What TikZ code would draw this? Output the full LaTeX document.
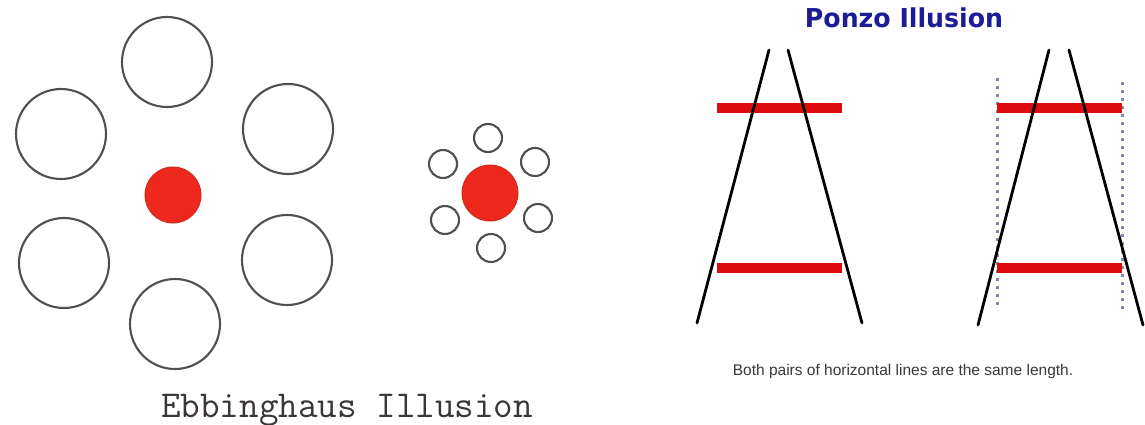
\documentclass[tikz,border=0pt]{standalone}
\usepackage{fontspec}
\newfontfamily\titlefont{DejaVu Sans}
\newfontfamily\capfont{Liberation Sans}
\definecolor{ringgray}{RGB}{80,80,80}
\definecolor{dotred}{RGB}{238,40,28}
\definecolor{dotedge}{RGB}{200,45,30}
\definecolor{barred}{RGB}{222,12,14}
\definecolor{titleblue}{RGB}{28,28,150}
\definecolor{dotblue}{RGB}{130,136,170}
\definecolor{textgray}{RGB}{60,55,55}
\begin{document}
\begin{tikzpicture}[x=1pt,y=-1pt,
  bigring/.style={circle,draw=ringgray,line width=2.1pt,minimum size=90pt,inner sep=0pt},
  smallring/.style={circle,draw=ringgray,line width=2.1pt,minimum size=28pt,inner sep=0pt},
  reddot/.style={circle,fill=dotred,draw=dotedge,line width=1pt,minimum size=56pt,inner sep=0pt},
  legline/.style={line width=2.8pt,black,line cap=round},
  redbar/.style={line width=10.5pt,barred},
  guide/.style={line width=3pt,dotblue,dash pattern=on 3pt off 5pt}]
\useasboundingbox[fill=white] (0,0) rectangle (1145,425);
% Ebbinghaus, large surround
\node[bigring] (t)  at (167,62) {};
\node[bigring] (ul) at (61,134) {};
\node[bigring] (ur) at (288,129) {};
\node[bigring] (ll) at (64,263) {};
\node[bigring] (lr) at (287,260) {};
\node[bigring] (b)  at (175,324) {};
\node[reddot]  (c1) at (173,195) {};
% Ebbinghaus, small surround
\node[smallring] (s1) at (488,138) {};
\node[smallring] (s2) at (443,164) {};
\node[smallring] (s3) at (535,162) {};
\node[smallring] (s4) at (445,220) {};
\node[smallring] (s5) at (538,218) {};
\node[smallring] (s6) at (491,248) {};
\node[reddot]    (c2) at (490,193) {};
\node[anchor=base west,inner sep=0pt,text=textgray,font=\ttfamily\fontsize{38}{38}\selectfont] (etitle) at (161,417) {Ebbinghaus Illusion};
% Ponzo
\node[inner sep=0pt,text=titleblue,font=\titlefont\bfseries\fontsize{26}{26}\selectfont,xscale=0.97,anchor=base] (ptitle) at (904,28) {Ponzo Illusion};
\coordinate (a1t) at (769,50);  \coordinate (a1b) at (697,323);
\coordinate (a2t) at (788,50);  \coordinate (a2b) at (862,323);
\coordinate (b1t) at (1049,50); \coordinate (b1b) at (978,325);
\coordinate (b2t) at (1069,50); \coordinate (b2b) at (1143,325);
\coordinate (g1t) at (997,78);  \coordinate (g1b) at (997,310);
\coordinate (g2t) at (1122,82); \coordinate (g2b) at (1122,314);
\coordinate (r1l) at (717,108); \coordinate (r1r) at (842,108);
\coordinate (r2l) at (717,268); \coordinate (r2r) at (842,268);
\coordinate (r3l) at (997,108); \coordinate (r3r) at (1122,108);
\coordinate (r4l) at (997,268); \coordinate (r4r) at (1122,268);
\draw[guide] (g1t) -- (g1b);
\draw[guide] (g2t) -- (g2b);
\draw[redbar] (r1l) -- (r1r);
\draw[redbar] (r2l) -- (r2r);
\draw[redbar] (r3l) -- (r3r);
\draw[redbar] (r4l) -- (r4r);
\draw[legline] (a1t) -- (a1b);
\draw[legline] (a2t) -- (a2b);
\draw[legline] (b1t) -- (b1b);
\draw[legline] (b2t) -- (b2b);
\node[inner sep=0pt,text=textgray,font=\capfont\fontsize{15.5}{15.5}\selectfont,anchor=base] (cap) at (903,375) {Both pairs of horizontal lines are the same length.};
\end{tikzpicture}
\end{document}
